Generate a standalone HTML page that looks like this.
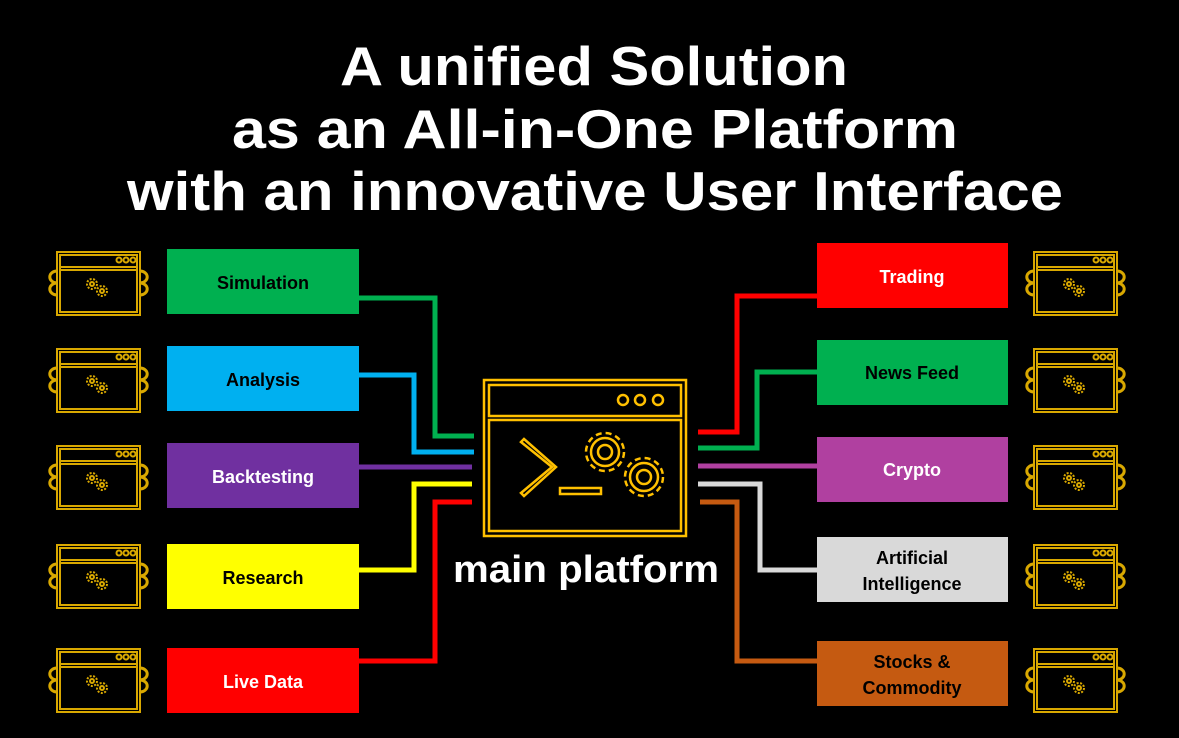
<!DOCTYPE html>
<html><head><meta charset="utf-8"><style>
html,body{margin:0;padding:0;background:#000;}
svg{display:block}
.t{font-family:"Liberation Sans",sans-serif;font-weight:bold;fill:#fff;text-anchor:middle}
.l{font-family:"Liberation Sans",sans-serif;font-weight:bold;fill:#000;font-size:18px;text-anchor:middle}
</style></head><body>
<svg width="1179" height="738" viewBox="0 0 1179 738" xmlns="http://www.w3.org/2000/svg">
<defs>
<g id="ic" fill="none" stroke="#d9a800" stroke-width="2">
  <rect x="0" y="0" width="83" height="63"/>
  <rect x="3" y="3" width="77" height="57"/>
  <line x1="3" y1="15" x2="80" y2="15"/>
  <line x1="3" y1="18" x2="80" y2="18"/>
  <circle cx="62" cy="8" r="2.5"/><circle cx="69" cy="8" r="2.5"/><circle cx="76" cy="8" r="2.5"/>
  <circle cx="35" cy="32" r="5" stroke-dasharray="2 1.5"/><circle cx="35" cy="32" r="2"/>
  <circle cx="45" cy="39" r="5" stroke-dasharray="2 1.5"/><circle cx="45" cy="39" r="2"/>
  <path d="M0 19 a6 5 0 0 0 0 12 M0 31 a6 5 0 0 0 0 12 M83 19 a6 5 0 0 1 0 12 M83 31 a6 5 0 0 1 0 12" stroke-width="3"/>
</g>
</defs>
<text class="t" x="594" y="85" font-size="55" textLength="508" lengthAdjust="spacingAndGlyphs">A unified Solution</text>
<text class="t" x="595" y="148" font-size="55" textLength="726" lengthAdjust="spacingAndGlyphs">as an All-in-One Platform</text>
<text class="t" x="595" y="210" font-size="55" textLength="936" lengthAdjust="spacingAndGlyphs">with an innovative User Interface</text>

<use href="#ic" x="57" y="252"/><use href="#ic" x="57" y="349"/><use href="#ic" x="57" y="446"/><use href="#ic" x="57" y="545"/><use href="#ic" x="57" y="649"/>
<use href="#ic" x="1034" y="252"/><use href="#ic" x="1034" y="349"/><use href="#ic" x="1034" y="446"/><use href="#ic" x="1034" y="545"/><use href="#ic" x="1034" y="649"/>

<g fill="none" stroke-width="5">
<polyline points="359,298 435,298 435,436 474,436" stroke="#00b050"/>
<polyline points="359,375 414,375 414,452 474,452" stroke="#00b0f0"/>
<polyline points="359,467 472,467" stroke="#7030a0"/>
<polyline points="359,570 414,570 414,484 472,484" stroke="#ffff00"/>
<polyline points="359,661 435,661 435,502 472,502" stroke="#ff0000"/>
<polyline points="698,432 737,432 737,296 817,296" stroke="#ff0000"/>
<polyline points="698,448 757,448 757,372 817,372" stroke="#00b050"/>
<polyline points="698,466 817,466" stroke="#b040a0"/>
<polyline points="698,484 760,484 760,570 817,570" stroke="#d9d9d9"/>
<polyline points="700,502 737,502 737,661 817,661" stroke="#c55a11"/>
</g>

<rect x="167" y="249" width="192" height="65" fill="#00b050"/><text class="l" x="263" y="289">Simulation</text>
<rect x="167" y="346" width="192" height="65" fill="#00b0f0"/><text class="l" x="263" y="386">Analysis</text>
<rect x="167" y="443" width="192" height="65" fill="#7030a0"/><text class="l" x="263" y="483" style="fill:#fff">Backtesting</text>
<rect x="167" y="544" width="192" height="65" fill="#ffff00"/><text class="l" x="263" y="584">Research</text>
<rect x="167" y="648" width="192" height="65" fill="#ff0000"/><text class="l" x="263" y="688" style="fill:#fff">Live Data</text>

<rect x="817" y="243" width="191" height="65" fill="#ff0000"/><text class="l" x="912" y="283" style="fill:#fff">Trading</text>
<rect x="817" y="340" width="191" height="65" fill="#00b050"/><text class="l" x="912" y="379">News Feed</text>
<rect x="817" y="437" width="191" height="65" fill="#b040a0"/><text class="l" x="912" y="476" style="fill:#fff">Crypto</text>
<rect x="817" y="537" width="191" height="65" fill="#d9d9d9"/><text class="l" x="912" y="564">Artificial</text><text class="l" x="912" y="590">Intelligence</text>
<rect x="817" y="641" width="191" height="65" fill="#c55a11"/><text class="l" x="912" y="668">Stocks &amp;</text><text class="l" x="912" y="694">Commodity</text>

<g fill="none" stroke="#ffc000" stroke-width="2.5">
<rect x="484" y="380" width="202" height="156"/>
<rect x="489" y="385" width="192" height="31"/>
<rect x="489" y="420" width="192" height="111"/>
<circle cx="623" cy="400" r="5"/><circle cx="640" cy="400" r="5"/><circle cx="658" cy="400" r="5"/>
<polygon points="521,442 552,467 521,493 524,496 556,467 524,439"/>
<rect x="560" y="488" width="41" height="6"/>
<circle cx="605" cy="452" r="19" stroke-dasharray="6 4"/><circle cx="605" cy="452" r="14"/><circle cx="605" cy="452" r="7"/>
<circle cx="644" cy="477" r="19" stroke-dasharray="6 4"/><circle cx="644" cy="477" r="14"/><circle cx="644" cy="477" r="7"/>
</g>
<text class="t" x="586" y="582" font-size="38" textLength="266" lengthAdjust="spacingAndGlyphs">main platform</text>
</svg>
</body></html>
